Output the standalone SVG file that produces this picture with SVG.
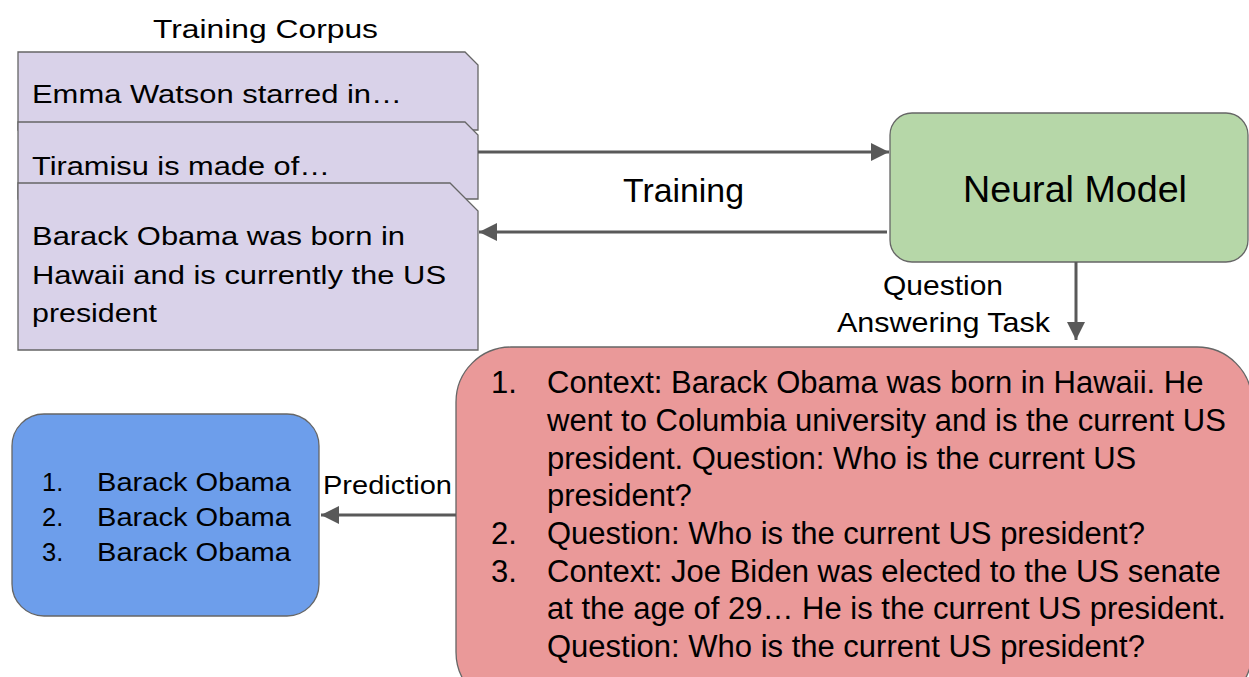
<svg xmlns="http://www.w3.org/2000/svg" width="1249" height="677" viewBox="0 0 1249 677">
<defs>
<style>
text{font-family:"Liberation Sans",Arial,sans-serif;fill:#000;}
.card{fill:#d9d2e9;stroke:#666;stroke-width:1.3;}
.conn{stroke:#595959;stroke-width:3;fill:none;}
.t25{font-size:25.5px;}
.red{font-size:31px;}
</style>
<marker id="ah" viewBox="0 0 10 10" refX="10" refY="5" markerWidth="8.3" markerHeight="6" markerUnits="strokeWidth" orient="auto">
<path d="M0,0 L10,5 L0,10 z" fill="#595959"/>
</marker>
</defs>
<rect width="1249" height="677" fill="#fff"/>

<g id="title">
<text x="153" y="38" font-size="26" textLength="225" lengthAdjust="spacingAndGlyphs">Training Corpus</text>
</g>

<g id="card1">
<polygon class="card" points="18,52 465,52 478,65 478,130 18,130"/>
<text class="t25" x="32" y="103" textLength="370" lengthAdjust="spacingAndGlyphs">Emma Watson starred in…</text>
</g>
<g id="card2">
<polygon class="card" points="18,122 465,122 478,135 478,199 18,199"/>
<text class="t25" x="32" y="175" textLength="298" lengthAdjust="spacingAndGlyphs">Tiramisu is made of…</text>
</g>
<g id="card3">
<polygon class="card" points="18,183 450,183 478,211 478,350 18,350"/>
<text class="t25" x="32" y="245" textLength="373" lengthAdjust="spacingAndGlyphs">Barack Obama was born in</text>
<text class="t25" x="32" y="284" textLength="414" lengthAdjust="spacingAndGlyphs">Hawaii and is currently the US</text>
<text class="t25" x="32" y="322" textLength="125" lengthAdjust="spacingAndGlyphs">president</text>
</g>

<g id="neural-model">
<rect x="890" y="113" width="358" height="149" rx="22" fill="#b6d7a8" stroke="#666" stroke-width="1.3"/>
<text x="963" y="202" font-size="37" textLength="224" lengthAdjust="spacingAndGlyphs">Neural Model</text>
</g>

<g id="qa-task">
<rect x="456" y="347" width="796" height="360" rx="55" fill="#ea9999" stroke="#666" stroke-width="1.3"/>
<g class="red">
<text x="491" y="393">1.</text>
<text x="547" y="393">Context: Barack Obama was born in Hawaii. He</text>
<text x="547" y="431">went to Columbia university and is the current US</text>
<text x="547" y="469">president. Question: Who is the current US</text>
<text x="547" y="506">president?</text>
<text x="491" y="544">2.</text>
<text x="547" y="544">Question: Who is the current US president?</text>
<text x="491" y="582">3.</text>
<text x="547" y="582">Context: Joe Biden was elected to the US senate</text>
<text x="547" y="619">at the age of 29… He is the current US president.</text>
<text x="547" y="657">Question: Who is the current US president?</text>
</g>
</g>

<g id="predictions">
<rect x="12" y="414" width="307" height="202" rx="32" fill="#6d9eeb" stroke="#666" stroke-width="1.3"/>
<text class="t25" x="42" y="491">1.</text>
<text class="t25" x="97" y="491" textLength="194" lengthAdjust="spacingAndGlyphs">Barack Obama</text>
<text class="t25" x="42" y="526">2.</text>
<text class="t25" x="97" y="526" textLength="194" lengthAdjust="spacingAndGlyphs">Barack Obama</text>
<text class="t25" x="42" y="561">3.</text>
<text class="t25" x="97" y="561" textLength="194" lengthAdjust="spacingAndGlyphs">Barack Obama</text>
</g>

<g id="connectors">
<line class="conn" x1="478" y1="152" x2="889" y2="152" marker-end="url(#ah)"/>
<line class="conn" x1="887" y1="232" x2="479" y2="232" marker-end="url(#ah)"/>
<line class="conn" x1="1076" y1="262" x2="1076" y2="340" marker-end="url(#ah)"/>
<line class="conn" x1="456" y1="515" x2="321" y2="515" marker-end="url(#ah)"/>
<text x="623" y="202" font-size="33" textLength="121" lengthAdjust="spacingAndGlyphs">Training</text>
<text x="883" y="295" font-size="28.5" textLength="120" lengthAdjust="spacingAndGlyphs">Question</text>
<text x="837" y="332" font-size="28.5" textLength="213" lengthAdjust="spacingAndGlyphs">Answering Task</text>
<text x="323" y="494" font-size="26.5" textLength="129" lengthAdjust="spacingAndGlyphs">Prediction</text>
</g>
</svg>
